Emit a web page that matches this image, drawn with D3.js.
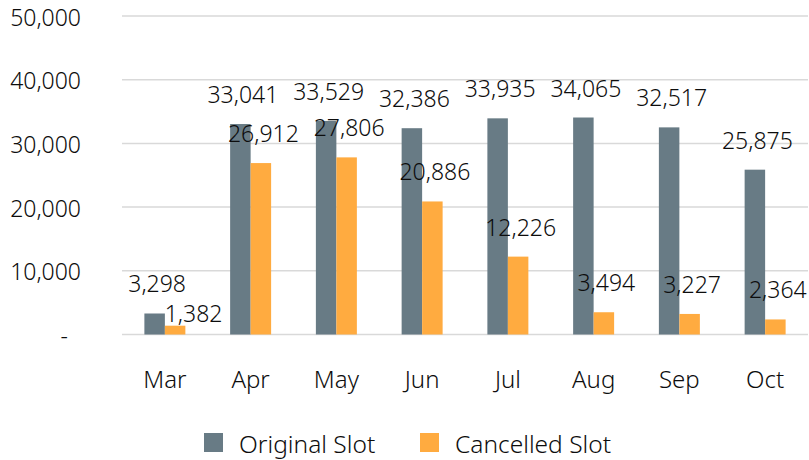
<!DOCTYPE html>
<html>
<head>
<meta charset="utf-8">
<script src="https://cdn.jsdelivr.net/npm/d3@7"></script>
<style>
  body { margin: 0; background: #fff; }
  text { font-family: "Noto Sans", sans-serif; font-weight: 300; fill: #0d0d0d; }
</style>
</head>
<body>
<div id="chart-area"></div>
<script>
// Monthly slots, original vs cancelled
var months = ["Mar", "Apr", "May", "Jun", "Jul", "Aug", "Sep", "Oct"];
var originalSlot = [3298, 33041, 33529, 32386, 33935, 34065, 32517, 25875];
var cancelledSlot = [1382, 26912, 27806, 20886, 12226, 3494, 3227, 2364];
var seriesNames = ["Original Slot", "Cancelled Slot"];
var yTicks = [0, 10000, 20000, 30000, 40000, 50000];

var colors = ["#687b85", "#ffab40"];

var width = 809, height = 460;
var margin = { left: 122, right: 1, top: 16, bottom: 125.5 };

var svg = d3.select("#chart-area")
    .append("svg")
    .attr("width", width)
    .attr("height", height);

var data = months.map(function(m, i) {
    return { month: m, values: [originalSlot[i], cancelledSlot[i]] };
});

// Scales
var x0 = d3.scaleBand()
    .domain(months)
    .range([margin.left, width - margin.right])
    .paddingInner(0.522)
    .paddingOuter(0.261);

var x1 = d3.scaleBand()
    .domain([0, 1])
    .range([0, x0.bandwidth()]);

var y = d3.scaleLinear()
    .domain([0, 50000])
    .range([height - margin.bottom, margin.top]);

// Gridlines
svg.append("g")
    .selectAll("line")
    .data(yTicks)
    .enter()
    .append("line")
    .attr("x1", margin.left)
    .attr("x2", width - margin.right)
    .attr("y1", function(d) { return y(d); })
    .attr("y2", function(d) { return y(d); })
    .attr("stroke", "#d9d9d9")
    .attr("stroke-width", 1.5);

// Y axis labels
svg.append("g")
    .selectAll("text")
    .data(yTicks)
    .enter()
    .append("text")
    .attr("x", function(d) { return d === 0 ? 68 : 81; })
    .attr("y", function(d) { return y(d); })
    .attr("dy", "0.42em")
    .attr("text-anchor", "end")
    .attr("font-size", "23px")
    .text(function(d) { return d === 0 ? "-" : d3.format(",")(d); });

// Bars
var groups = svg.append("g")
    .selectAll("g")
    .data(data)
    .enter()
    .append("g")
    .attr("transform", function(d) { return "translate(" + x0(d.month) + ",0)"; });

groups.selectAll("rect")
    .data(function(d) { return d.values; })
    .enter()
    .append("rect")
    .attr("x", function(d, i) { return x1(i); })
    .attr("y", function(d) { return y(d); })
    .attr("width", x1.bandwidth())
    .attr("height", function(d) { return y(0) - y(d); })
    .attr("fill", function(d, i) { return colors[i]; });

// Value labels (the first cancelled label was nudged aside in the original)
groups.selectAll(".vlabel")
    .data(function(d, gi) { return d.values.map(function(v, i) { return { v: v, i: i, g: gi }; }); })
    .enter()
    .append("text")
    .attr("class", "vlabel")
    .attr("x", function(d) {
        var cx = x1(d.i) + x1.bandwidth() / 2 + 2.5;
        if (d.g === 0 && d.i === 1) cx += 16;
        return cx;
    })
    .attr("y", function(d) {
        var yy = y(d.v) - 21;
        if (d.g === 0 && d.i === 1) yy += 17;
        return yy;
    })
    .attr("text-anchor", "middle")
    .attr("font-size", "23px")
    .text(function(d) { return d3.format(",")(d.v); });

// X axis labels
svg.append("g")
    .selectAll("text")
    .data(months)
    .enter()
    .append("text")
    .attr("x", function(d) { return x0(d) + x0.bandwidth() / 2; })
    .attr("y", 388)
    .attr("text-anchor", "middle")
    .attr("font-size", "24px")
    .text(function(d) { return d; });

// Legend
var legendX = [204, 420];
var legend = svg.append("g")
    .selectAll("g")
    .data(seriesNames)
    .enter()
    .append("g")
    .attr("transform", function(d, i) { return "translate(" + legendX[i] + ",433)"; });

legend.append("rect")
    .attr("width", 19)
    .attr("height", 19)
    .attr("fill", function(d, i) { return colors[i]; });

legend.append("text")
    .attr("x", 35)
    .attr("y", 20)
    .attr("font-size", "24.5px")
    .text(function(d) { return d; });
</script>
</body>
</html>
